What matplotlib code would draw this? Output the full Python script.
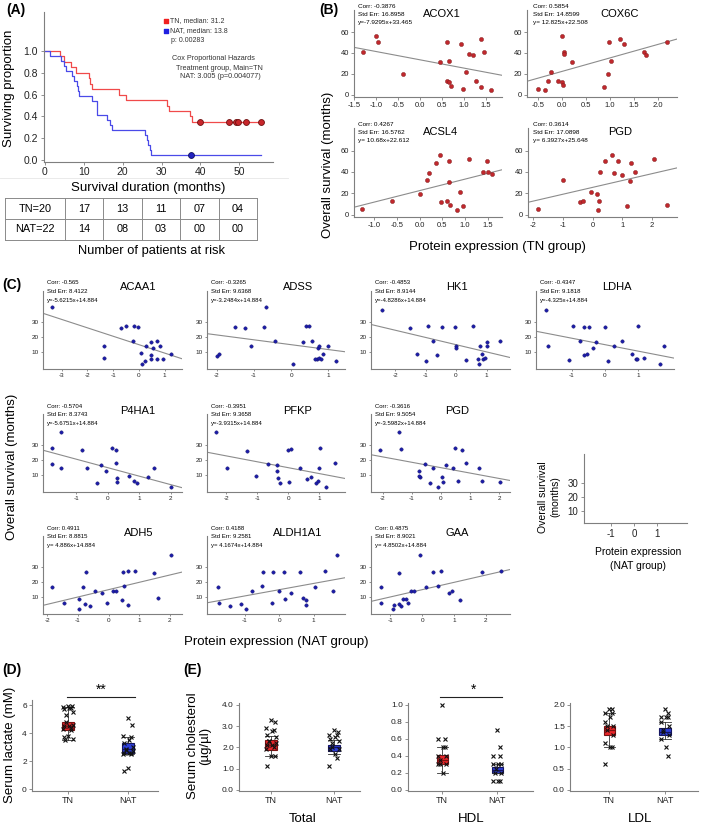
import matplotlib
matplotlib.use('Agg')
import matplotlib.pyplot as plt
import numpy as np

plt.rcParams['font.family'] = ['Liberation Sans', 'DejaVu Sans']
plt.rcParams['axes.unicode_minus'] = False

# ---------------- DATA ----------------
# Panel A: Kaplan-Meier step data
tn_times = [0, 4.0, 4.9, 6.8, 8.1, 11.3, 11.7, 12.1, 19.0, 20.9, 31.4, 31.8, 37.4, 37.8, 55.5]
tn_surv = [1.0, 0.95, 0.90, 0.85, 0.80, 0.75, 0.70, 0.65, 0.60, 0.55, 0.50, 0.45, 0.40, 0.35, 0.35]
tn_censor = [39.9, 47.4, 49.1, 49.6, 51.6, 55.5]
nat_times = [0, 1.3, 4.3, 4.9, 5.5, 6.9, 7.5, 8.2, 8.5, 8.8, 12.1, 13.4, 16.0, 16.7, 17.3,
             25.8, 26.2, 26.6, 27.0, 27.3, 55.5]
nat_surv = [1.0, 0.955, 0.909, 0.864, 0.818, 0.773, 0.727, 0.682, 0.636, 0.591, 0.545, 0.409,
            0.364, 0.318, 0.273, 0.227, 0.182, 0.136, 0.091, 0.045, 0.045]
nat_censor = [37.5]
risk_times = ["10", "20", "30", "40", "50"]
risk_tn = ["17", "13", "11", "07", "04"]
risk_nat = ["14", "08", "03", "00", "00"]

# Panel B: TN group scatter
B_names = ["ACOX1", "COX6C", "ACSL4", "PGD"]
B_stats = [("-0.3876", "16.8958", "y=-7.9295x+33.465"),
           ("0.5854", "14.8599", "y= 12.825x+22.508"),
           ("0.4267", "16.5762", "y= 10.68x+22.612"),
           ("0.3614", "17.0898", "y= 6.3927x+25.648")]
B_slope = [-7.9295, 12.825, 10.68, 6.3927]
B_inter = [33.465, 22.508, 22.612, 25.648]
acox1_x = [-1.29, -1.01, -0.96, -0.38, 0.45, 0.60, 0.62, 0.66, 0.66, 0.70, 0.92, 0.98, 1.04, 1.10, 1.20, 1.26, 1.39, 1.44, 1.39, 1.60]
acox1_y = [41.3, 56.5, 50.2, 20.0, 31.7, 50.8, 13.3, 12.1, 32.7, 8.9, 48.6, 5.7, 22.2, 39.0, 38.1, 13.6, 53.0, 41.3, 7.9, 4.8]
cox6c_x = [-0.50, -0.36, -0.29, -0.24, -0.10, -0.01, -0.01, 0.02, 0.04, 0.04, 0.20, 0.88, 0.96, 0.98, 1.01, 1.21, 1.29, 1.70, 1.75, 2.19]
cox6c_y = [5.7, 4.8, 13.6, 21.9, 13.3, 56.5, 12.1, 9.2, 40.6, 38.7, 31.7, 7.9, 19.7, 50.8, 32.7, 53.0, 48.3, 41.3, 38.1, 50.2]
acsl4_x = [-1.28, -0.60, 0.01, 0.17, 0.20, 0.37, 0.45, 0.65, 0.66, 0.47, 0.60, 0.67, 0.82, 0.89, 0.95, 1.10, 1.40, 1.49, 1.51, 1.60]
acsl4_y = [5.4, 12.6, 19.6, 32.2, 38.6, 48.0, 56.2, 50.0, 31.0, 12.0, 13.3, 8.8, 4.7, 21.5, 7.9, 52.1, 40.4, 50.0, 40.4, 37.9]
pgdtn_x = [-1.83, -0.99, -0.42, -0.34, -0.05, 0.14, 0.17, 0.22, 0.25, 0.42, 0.65, 0.73, 0.84, 0.98, 1.27, 1.29, 1.41, 1.15, 2.05, 2.51]
pgdtn_y = [5.4, 32.2, 12.0, 13.3, 21.5, 19.6, 4.7, 12.6, 40.4, 50.0, 56.2, 38.6, 50.0, 37.3, 31.6, 48.0, 40.4, 7.9, 52.1, 8.8]

# Panel C: NAT group scatter
C_names = ["ACAA1", "ADSS", "HK1", "LDHA", "P4HA1", "PFKP", "PGD", "ADH5", "ALDH1A1", "GAA"]
C_corr = ["-0.565", "-0.3265", "-0.4853", "-0.4347", "-0.5704", "-0.3951", "-0.3616", "0.4911", "0.4188", "0.4875"]
C_stderr = ["8.4122", "9.6368", "8.9144", "9.1818", "8.3743", "9.3658", "9.5054", "8.8815", "9.2581", "8.9021"]
C_eq = ["y=-5.6215x+14.884", "y=-3.2484x+14.884", "y=-4.8286x+14.884", "y=-4.325x+14.884",
        "y=-5.6751x+14.884", "y=-3.9315x+14.884", "y=-3.5982x+14.884",
        "y= 4.886x+14.884", "y= 4.1674x+14.884", "y= 4.8502x+14.884"]
C_slope = [-5.6215, -3.2484, -4.8286, -4.325, -5.6751, -3.9315, -3.5982, 4.886, 4.1674, 4.8502]
C_inter = 14.884
acaa1_x = [-3.38, -1.34, -1.34, -0.71, -0.50, -0.22, -0.18, -0.03, 0.08, 0.13, 0.26, 0.23, 0.45, 0.45, 0.45, 0.56, 0.69, 0.71, 0.81, 0.92, 1.24]
acaa1_y = [40.0, 14.0, 6.2, 26.2, 27.1, 17.3, 27.3, 26.4, 9.1, 1.8, 14.0, 4.0, 16.4, 8.0, 5.1, 12.7, 17.3, 5.1, 14.0, 5.6, 8.7]
adss_x = [-2.0, -1.94, -1.51, -1.24, -0.74, -1.08, -0.42, 0.06, 0.33, 0.40, 0.49, 0.57, 0.69, 0.73, 0.76, 0.65, 0.80, 0.85, 0.99, 1.20, 0.75, -0.67]
adss_y = [7.3, 8.7, 26.4, 26.2, 26.4, 14.0, 17.3, 1.8, 16.4, 27.3, 27.3, 17.3, 5.1, 12.9, 6.2, 5.6, 5.1, 8.7, 14.0, 4.2, 14.0, 40.0]
hk1_x = [-2.44, -1.51, -1.29, -0.98, -0.93, -0.74, -0.61, -0.47, 0.0, 0.0, -0.02, 0.33, 0.55, 0.79, 0.84, 0.76, 0.73, 0.90, 0.95, 1.0, 1.0, 1.44]
hk1_y = [38.0, 26.2, 8.7, 4.2, 27.3, 17.3, 7.8, 26.7, 14.0, 12.9, 26.4, 4.7, 27.3, 14.0, 8.7, 1.8, 5.1, 5.6, 6.2, 16.4, 14.0, 17.3]
ldha_x = [-1.77, -1.70, -1.08, -0.95, -0.75, -0.62, -0.62, -0.53, -0.48, -0.37, -0.28, 0.0, 0.10, 0.28, 0.50, 0.80, 0.92, 0.95, 1.0, 1.17, 1.65, 1.78]
ldha_y = [38.0, 14.0, 4.7, 27.3, 17.3, 26.4, 7.8, 8.7, 26.4, 12.4, 16.4, 26.4, 4.2, 14.0, 17.3, 8.7, 5.6, 5.1, 27.3, 6.2, 1.8, 14.0]
p4ha1_x = [-1.49, -1.75, -0.80, 0.14, 0.27, -1.75, -1.49, -0.67, -0.33, -0.20, -0.04, 0.27, 0.29, 0.29, 0.66, 0.82, 0.92, 1.27, 1.45, 1.99]
p4ha1_y = [38.4, 27.8, 26.7, 27.8, 26.7, 17.3, 14.4, 14.4, 4.9, 16.7, 12.9, 17.8, 7.8, 5.6, 9.3, 6.2, 4.4, 8.9, 14.4, 2.2]
pfkp_x = [-2.33, -1.32, 0.0, 0.09, 1.02, -1.99, -1.04, -0.65, -0.35, -0.37, -0.32, -0.27, 0.03, 0.38, 0.61, 0.72, 0.89, 0.97, 1.0, 1.21, 1.51]
pfkp_y = [38.4, 26.2, 26.7, 27.3, 27.8, 14.4, 9.3, 17.3, 16.7, 12.9, 8.2, 4.9, 5.6, 14.4, 7.1, 8.9, 4.4, 6.2, 14.4, 2.2, 17.8]
pgdnat_x = [-2.09, -1.43, -1.37, 0.49, 0.72, -0.75, -0.73, -0.76, -0.56, -0.38, -0.27, -0.09, 0.02, 0.06, 0.17, 0.41, 0.58, 0.87, 1.30, 1.42, 2.02]
pgdnat_y = [26.7, 38.4, 27.1, 27.8, 26.9, 12.9, 8.9, 9.3, 17.3, 4.4, 14.4, 2.2, 8.9, 5.1, 16.7, 14.4, 6.2, 17.8, 14.4, 6.2, 5.6]
adh5_x = [-1.86, -1.45, -0.96, -0.95, -0.82, -0.77, -0.60, -0.44, -0.22, -0.06, 0.16, 0.23, 0.43, 0.51, 0.65, 1.63, -0.75, 0.48, 0.65, 0.87, 1.49, 2.04]
adh5_y = [16.9, 5.8, 8.7, 1.8, 16.4, 5.1, 4.0, 14.0, 12.9, 5.8, 14.0, 14.0, 8.0, 17.3, 4.7, 9.1, 26.9, 26.9, 27.6, 27.6, 26.2, 38.0]
aldh_x = [-1.78, -1.74, -1.43, -1.10, -0.98, -0.78, -0.50, -0.20, 0.0, 0.18, 0.34, 0.68, 0.77, 0.78, 1.04, 1.56, -0.47, -0.18, 0.14, 0.60, 1.33, 1.68]
aldh_y = [16.4, 5.8, 4.0, 5.1, 1.8, 14.0, 17.3, 5.8, 14.0, 8.7, 12.4, 9.1, 8.0, 4.7, 16.9, 14.0, 26.9, 26.4, 26.4, 26.4, 27.3, 38.0]
gaa_x = [-1.30, -1.30, -0.93, -0.87, -0.73, -0.68, -0.61, -0.52, -0.45, -0.34, -0.26, 0.12, 0.49, 0.86, 0.95, 1.18, -0.73, -0.07, 0.35, 0.60, 1.90, 2.48]
gaa_y = [16.4, 5.8, 1.8, 4.7, 5.1, 4.0, 8.7, 8.7, 5.8, 14.0, 14.0, 16.9, 17.3, 12.4, 14.0, 8.0, 26.2, 38.0, 26.9, 27.3, 26.5, 27.3]

# Panel D: serum lactate (mM)
groups = ["TN", "NAT"]
lact_tn = [5.95, 5.9, 5.85, 5.8, 5.8, 5.7, 5.5, 5.3, 4.8, 4.6, 4.5, 4.5, 4.4, 4.3, 4.2, 3.8, 3.7, 3.6, 3.5]
lact_nat = [5.1, 4.6, 3.8, 3.7, 3.5, 3.3, 3.0, 2.9, 2.8, 2.7, 2.6, 2.6, 2.6, 2.55, 2.5, 1.5, 1.3]
lact_box = [dict(q1=4.25, med=4.5, q3=4.8, whislo=3.5, whishi=5.85),
            dict(q1=2.6, med=2.9, q3=3.3, whislo=2.5, whishi=3.75)]

# Panel E: serum cholesterol (ug/ul)
E_names = ["Total", "HDL", "LDL"]
tot_tn = [3.3, 3.2, 2.9, 2.8, 2.75, 2.6, 2.5, 2.3, 2.3, 2.2, 2.1, 2.1, 2.0, 1.9, 1.6, 1.6, 1.1]
tot_nat = [2.8, 2.7, 2.6, 2.6, 2.5, 2.4, 2.3, 2.2, 2.0, 1.9, 1.9, 1.7, 1.5, 1.1]
hdl_tn = [1.0, 0.6, 0.6, 0.5, 0.5, 0.4, 0.4, 0.35, 0.3, 0.3, 0.3, 0.2]
hdl_nat = [0.7, 0.5, 0.4, 0.4, 0.3, 0.3, 0.3, 0.25, 0.2, 0.2, 0.1, 0.1, 0.1]
ldl_tn = [1.9, 1.9, 1.8, 1.8, 1.7, 1.6, 1.5, 1.5, 1.4, 1.3, 1.1, 1.0, 1.0, 0.6]
ldl_nat = [1.9, 1.8, 1.7, 1.7, 1.7, 1.6, 1.5, 1.4, 1.35, 1.3, 1.2, 1.0, 0.8]
tot_box = [dict(q1=1.88, med=2.1, q3=2.35, whislo=1.6, whishi=2.55),
           dict(q1=1.85, med=2.0, q3=2.12, whislo=1.7, whishi=2.35)]
hdl_box = [dict(q1=0.3, med=0.35, q3=0.41, whislo=0.2, whishi=0.5),
           dict(q1=0.2, med=0.23, q3=0.27, whislo=0.2, whishi=0.3)]
ldl_box = [dict(q1=1.3, med=1.4, q3=1.5, whislo=1.0, whishi=1.8),
           dict(q1=1.3, med=1.35, q3=1.45, whislo=1.2, whishi=1.6)]

# ---------------- FIGURE ----------------
W, H = 709, 827
fig = plt.figure(figsize=(W / 100, H / 100), dpi=100)
fig.patch.set_facecolor('white')

ov = fig.add_axes([0, 0, 1, 1])
ov.set_xlim(0, W)
ov.set_ylim(H, 0)
ov.axis('off')
ov.set_zorder(-1)


def add_ax(l, t, r, b):
    return fig.add_axes([l / W, 1 - b / H, (r - l) / W, (b - t) / H])


def T(x, y, s, **kw):
    kw.setdefault('ha', 'center')
    kw.setdefault('va', 'center')
    return ov.text(x, y, s, **kw)


SP = '#7f7f7f'


def style(ax, fs=5, length=2.0, color=SP):
    for s in ['top', 'right']:
        ax.spines[s].set_visible(False)
    for s in ['left', 'bottom']:
        ax.spines[s].set_color(color)
        ax.spines[s].set_linewidth(0.8)
    ax.tick_params(length=length, width=0.6, color=color, pad=1.5, labelsize=fs, labelcolor='#222222')
    ax.patch.set_alpha(0)


# ---------- Panel A ----------
T(16, 10, "(A)", fontsize=10, fontweight='bold')
axA = add_ax(43.5, 11.7, 273.3, 161.7)
style(axA, fs=7.5, length=2.5)
axA.set_xlim(-0.3, 58.7)
axA.set_ylim(-0.015, 1.36)
axA.plot(tn_times, tn_surv, drawstyle='steps-post', color='#f04a4a', lw=0.9)
axA.plot(nat_times, nat_surv, drawstyle='steps-post', color='#4a4ae8', lw=0.9)
axA.scatter(tn_censor, [tn_surv[-1]] * len(tn_censor), s=18, c='#c8262b', edgecolors='#6e1010', linewidths=0.6, zorder=4)
axA.scatter(nat_censor, [nat_surv[-1]] * len(nat_censor), s=18, c='#2323c0', edgecolors='#10105e', linewidths=0.6, zorder=4)
axA.set_yticks([0, 0.2, 0.4, 0.6, 0.8, 1.0])
axA.set_yticklabels(["0.0", "0.2", "0.4", "0.6", "0.8", "1.0"])
axA.set_xticks([0, 10, 20, 30, 40, 50])
T(9, 88, "Surviving proportion", fontsize=9.5, rotation=90)
T(148, 188, "Survival duration (months)", fontsize=9.5)
ov.plot([0, 288], [178, 178], color='#e6e6e6', lw=0.6)
# legend
ov.scatter([166], [21], marker='s', s=11, c='#f02020')
ov.scatter([166], [31], marker='s', s=11, c='#2020e0')
T(170, 21, "TN, median: 31.2", fontsize=5, ha='left', color='#333333')
T(170, 31, "NAT, median: 13.8", fontsize=5, ha='left', color='#333333')
T(171, 41, "p: 0.00283", fontsize=5, ha='left', color='#333333')
T(172, 59, "Cox Proportional Hazards", fontsize=5.2, ha='left', color='#333333')
T(176, 68, "Treatment group, Main=TN", fontsize=5.2, ha='left', color='#333333')
T(180, 77, "NAT: 3.005 (p=0.004077)", fontsize=5.2, ha='left', color='#333333')
# table
tl, tr, tt, tb, tm = 5, 257, 198, 240, 219
colx = [tl, 65] + [65 + (tr - 65) * k / 5 for k in range(1, 6)]
for yy in [tt, tm, tb]:
    ov.plot([tl, tr], [yy, yy], color='#8a8a8a', lw=0.7)
for xx in colx:
    ov.plot([xx, xx], [tt, tb], color='#8a8a8a', lw=0.7)
T((colx[0] + colx[1]) / 2, (tt + tm) / 2, "TN=20", fontsize=7.8)
T((colx[0] + colx[1]) / 2, (tm + tb) / 2, "NAT=22", fontsize=7.8)
for k in range(5):
    cx = (colx[k + 1] + colx[k + 2]) / 2
    T(cx, (tt + tm) / 2, risk_tn[k], fontsize=7.8)
    T(cx, (tm + tb) / 2, risk_nat[k], fontsize=7.8)
T(151, 251, "Number of patients at risk", fontsize=9.3)

# ---------- Panel B ----------
T(329, 10, "(B)", fontsize=10, fontweight='bold')
B_rects = [(354, 10, 502, 97), (527, 10, 677, 97), (354, 128, 502, 217), (528, 128, 677, 217)]
B_xlim = [(-1.5, 1.86), (-0.74, 2.4), (-1.45, 1.82), (-2.18, 2.84)]
B_xticks = [[-1.5, -1, -0.5, 0, 0.5, 1, 1.5], [-0.5, 0, 0.5, 1, 1.5, 2],
            [-1, -0.5, 0, 0.5, 1, 1.5], [-2, -1, 0, 1, 2]]
B_fmt = ["{:.1f}", "{:.1f}", "{:.1f}", "{:.0f}"]
B_textx = [358, 533, 358, 533]
B_titlex = [442, 620, 441, 620]
B_x = [acox1_x, cox6c_x, acsl4_x, pgdtn_x]
B_y = [acox1_y, cox6c_y, acsl4_y, pgdtn_y]
for i in range(4):
    l, t, r, b = B_rects[i]
    ax = add_ax(l, t, r, b)
    style(ax, fs=5.5)
    ax.set_xlim(*B_xlim[i])
    ax.set_ylim(-2, 81)
    xs = np.array(B_xlim[i])
    ax.plot(xs, B_slope[i] * xs + B_inter[i], color='#8c8c8c', lw=0.8)
    ax.scatter(B_x[i], B_y[i], s=9, c='#c0282d', edgecolors='#7a1a1a', linewidths=0.3, zorder=3)
    ax.set_yticks([0, 20, 40, 60])
    ax.set_xticks(B_xticks[i])
    ax.set_xticklabels([B_fmt[i].format(v) for v in B_xticks[i]])
    T(B_textx[i], t - 4, "Corr: " + B_stats[i][0], fontsize=4.6, ha='left')
    T(B_textx[i], t + 4.2, "Std Err: " + B_stats[i][1], fontsize=4.6, ha='left')
    T(B_textx[i], t + 12.5, B_stats[i][2], fontsize=4.6, ha='left')
    T(B_titlex[i], t + 3.8, B_names[i], fontsize=8)
T(328, 165, "Overall survival (months)", fontsize=9.5, rotation=90)
T(497, 247, "Protein expression (TN group)", fontsize=9.5)

# ---------- Panel C ----------
T(12, 285, "(C)", fontsize=10, fontweight='bold')
C_x = [acaa1_x, adss_x, hk1_x, ldha_x, p4ha1_x, pfkp_x, pgdnat_x, adh5_x, aldh_x, gaa_x]
C_y = [acaa1_y, adss_y, hk1_y, ldha_y, p4ha1_y, pfkp_y, pgdnat_y, adh5_y, aldh_y, gaa_y]
C_cols = [(43, 182), (207, 345), (371, 510), (536, 674)]
C_rowtop = [290.5, 413.5, 535.5]
C_pos = [(0, 0), (0, 1), (0, 2), (0, 3), (1, 0), (1, 1), (1, 2), (2, 0), (2, 1), (2, 2)]
C_xlim = [(-3.72, 1.67), (-2.26, 1.45), (-2.79, 1.77), (-2.07, 2.07),
          (-2.05, 2.35), (-2.62, 1.83), (-2.4, 2.37),
          (-2.14, 2.4), (-2.1, 1.91), (-1.61, 2.77)]
C_xticks = [[-3, -2, -1, 0, 1], [-2, -1, 0, 1], [-2, -1, 0, 1], [-1, 0, 1],
            [-1, 0, 1, 2], [-2, -1, 0, 1], [-2, -1, 0, 1, 2],
            [-2, -1, 0, 1, 2], [-1, 0, 1], [-1, 0, 1, 2]]
C_titledx = [95, 91, 86, 81, 95, 91, 86, 96, 91, 86]
for i in range(10):
    row, col = C_pos[i]
    l, r = C_cols[col]
    t = C_rowtop[row]
    b = t + 78
    ax = add_ax(l, t, r, b)
    style(ax, fs=4.6, length=1.6)
    ax.set_xlim(*C_xlim[i])
    ax.set_ylim(-1, 51)
    xs = np.array(C_xlim[i])
    ax.plot(xs, C_slope[i] * xs + C_inter, color='#8c8c8c', lw=0.8)
    ax.scatter(C_x[i], C_y[i], s=6, c='#1c1ca8', edgecolors='#10106a', linewidths=0.3, zorder=3)
    ax.set_yticks([10, 20, 30])
    ax.set_xticks(C_xticks[i])
    tx = l + 4
    T(tx, t - 7.5, "Corr: " + C_corr[i], fontsize=4.3, ha='left')
    T(tx, t + 1.2, "Std Err: " + C_stderr[i], fontsize=4.3, ha='left')
    T(tx, t + 10, C_eq[i], fontsize=4.3, ha='left')
    T(l + C_titledx[i], t - 3, C_names[i], fontsize=8)
# reference-scale axes
axR = add_ax(584, 454, 687, 523)
style(axR, fs=7, length=2.5)
axR.set_xlim(-2.17, 2.3)
axR.set_ylim(1.4, 50.7)
axR.set_xticks([-1, 0, 1])
axR.set_yticks([10, 20, 30])
T(543, 497, "Overall survival", fontsize=7.5, rotation=90)
T(555, 497, "(months)", fontsize=7.5, rotation=90)
T(638, 552, "Protein expression", fontsize=7.5)
T(638, 566, "(NAT group)", fontsize=7.5)
T(12, 467, "Overall survival (months)", fontsize=9.5, rotation=90)
T(276, 642, "Protein expression (NAT group)", fontsize=9.5)

# ---------- Panels D and E ----------
T(12, 670, "(D)", fontsize=10, fontweight='bold')
T(192, 670, "(E)", fontsize=10, fontweight='bold')

box_cols = [('#e8262a', '#7a1212'), ('#2e3fd6', '#151560')]


def box_panel(rect, xlim, ylim, yticks, yfmt, stats, pts):
    ax = add_ax(*rect)
    style(ax, fs=6, length=2.2)
    ax.set_xlim(*xlim)
    ax.set_ylim(*ylim)
    for k in range(2):
        st = dict(stats[k])
        st['fliers'] = []
        bp = ax.bxp([st], positions=[k + 1], widths=0.2, capwidths=0.2, patch_artist=True,
                    showfliers=False, manage_ticks=False)
        for p in bp['boxes']:
            p.set_facecolor(box_cols[k][0])
            p.set_edgecolor(box_cols[k][1])
            p.set_linewidth(0.8)
        for m in bp['medians']:
            m.set_color(box_cols[k][1])
            m.set_linewidth(0.9)
        for w in bp['whiskers'] + bp['caps']:
            w.set_color('#333333')
            w.set_linewidth(0.6)
        vals = np.array(pts[k])
        n = len(vals)
        off = 0.08 * np.sin(np.arange(n) * 2.3)
        ax.plot(k + 1 + off, vals, linestyle='none', marker='x', ms=2.8, mew=0.8, color='#111111', zorder=4)
    ax.set_xticks([1, 2])
    ax.set_xticklabels(groups, fontsize=6.5)
    ax.set_yticks(yticks)
    ax.set_yticklabels([yfmt.format(v) for v in yticks])
    return ax


box_panel((32, 700, 158, 791), (0.4, 2.5), (-0.12, 6.36), [0, 2, 4, 6], "{:.0f}",
          lact_box, [lact_tn, lact_nat])
T(10, 745, "Serum lactate (mM)", fontsize=9.5, rotation=90)
ov.plot([67, 135], [697, 697], color='#222222', lw=0.8)
T(101, 690, "**", fontsize=10)

box_panel((239, 703, 360, 791), (0.49, 2.41), (-0.05, 4.08), [0, 1, 2, 3, 4], "{:.1f}",
          tot_box, [tot_tn, tot_nat])
box_panel((408, 703, 533, 791), (0.38, 2.65), (-0.012, 1.02), [0, 0.2, 0.4, 0.6, 0.8, 1.0], "{:.1f}",
          hdl_box, [hdl_tn, hdl_nat])
box_panel((570, 703, 698, 791), (0.30, 2.59), (-0.024, 2.04), [0, 0.5, 1.0, 1.5, 2.0], "{:.1f}",
          ldl_box, [ldl_tn, ldl_nat])
ov.plot([440, 502], [697, 697], color='#222222', lw=0.8)
T(474, 690, "*", fontsize=10)
T(199, 746, "Serum cholesterol\n(\u00b5g/\u00b5l)", fontsize=9.5, rotation=90, linespacing=1.1)
T(303, 819, "Total", fontsize=9.5)
T(471, 819, "HDL", fontsize=9.5)
T(640, 819, "LDL", fontsize=9.5)

fig.savefig("out.png", dpi=100, facecolor='white')
